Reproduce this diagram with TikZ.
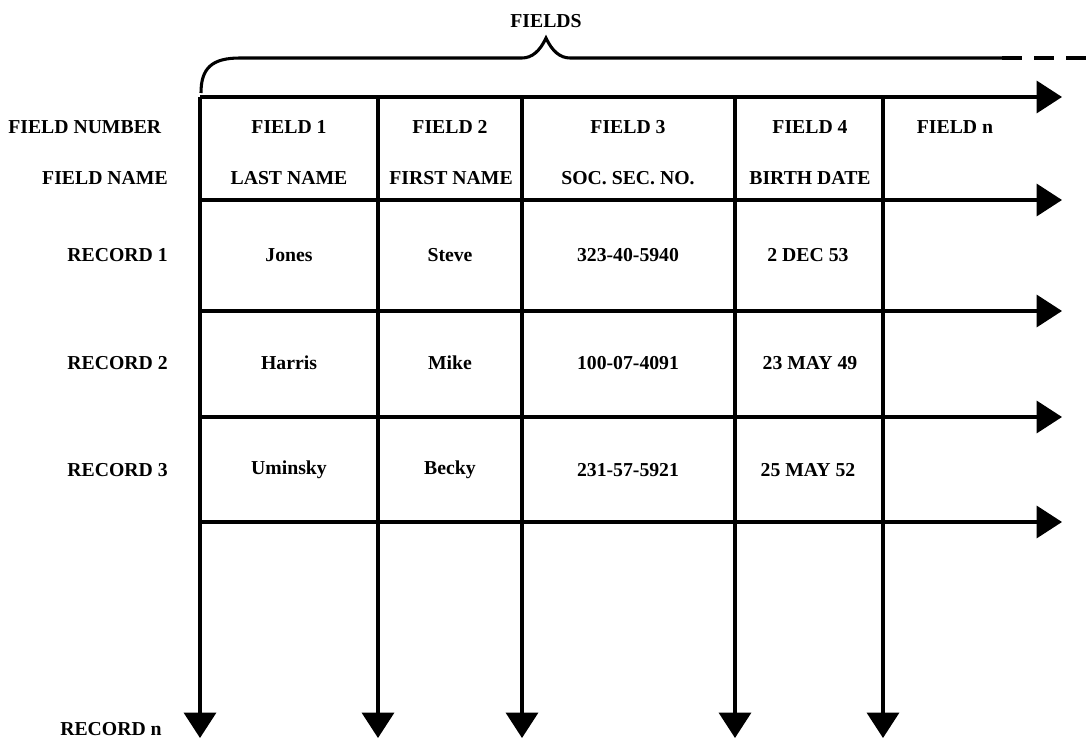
\documentclass[tikz,border=0pt]{standalone}
\usepackage{fontspec}
\setmainfont{Liberation Serif}
\usetikzlibrary{arrows.meta}
\begin{document}
\begin{tikzpicture}[x=0.75pt,y=-0.75pt,
  gridline/.style={line width=2.4pt},
  gridarrow/.style={gridline,-{Triangle[length=19pt,width=24pt]}},
  lbl/.style={font=\bfseries\fontsize{14.8}{17}\selectfont,inner sep=0pt},
  cell/.style={lbl,anchor=center}]
\useasboundingbox (0,0) rectangle (1086,741);

% grid coordinates: columns and rows
\foreach \name/\x in {c0/200,c1/378,c2/522,c3/735,c4/883} {
  \coordinate (\name top) at (\x,97);
  \coordinate (\name end) at (\x,738);
}
\foreach \name/\y in {r0/97,r1/200,r2/311,r3/417,r4/522} {
  \coordinate (\name left) at (200,\y);
  \coordinate (\name end) at (1062,\y);
}

% record lines (horizontal) and field lines (vertical)
\foreach \name in {r0,r1,r2,r3,r4}
  \draw[gridarrow] (\name left) -- (\name end);
\foreach \name in {c0,c1,c2,c3,c4}
  \draw[gridarrow] (\name top) -- (\name end);

% brace over the fields
\coordinate (bl) at (201,93);
\coordinate (btip) at (546,38);
\coordinate (br) at (1002,58);
\coordinate (bdash) at (1086,58);
\draw[line width=2.3pt]
  (bl) .. controls (201,68) and (212,58) .. (240,58) -- (522,58)
  .. controls (532,58) and (540,51) .. (btip)
  .. controls (552,51) and (560,58) .. (570,58) -- (br);
\draw[line width=2.3pt,dash pattern=on 15pt off 9pt] (br) -- (bdash);
\node[lbl] (fields) at (546,21) {FIELDS};

% row labels
\node[lbl,anchor=west] (fnum) at (8,127) {FIELD NUMBER};
\node[lbl,anchor=east] (fname) at (168,178) {FIELD NAME};
\node[lbl,anchor=east] (rec1) at (168,255) {RECORD 1};
\node[lbl,anchor=east] (rec2) at (168,363) {RECORD 2};
\node[lbl,anchor=east] (rec3) at (168,470) {RECORD 3};
\node[lbl,anchor=west] (recn) at (60,729) {RECORD n};

% field numbers
\node[cell] (f1) at (289,127) {FIELD 1};
\node[cell] (f2) at (450,127) {FIELD 2};
\node[cell] (f3) at (628,127) {FIELD 3};
\node[cell] (f4) at (810,127) {FIELD 4};
\node[cell] (fn) at (955,127) {FIELD n};

% field names
\node[cell] (n1) at (289,178) {LAST NAME};
\node[cell] (n2) at (451,178) {FIRST NAME};
\node[cell] (n3) at (628,178) {SOC. SEC. NO.};
\node[cell] (n4) at (810,178) {BIRTH DATE};

% record 1
\node[cell] (a1) at (289,255) {Jones};
\node[cell] (a2) at (450,255) {Steve};
\node[cell] (a3) at (628,255) {323-40-5940};
\node[cell] (a4) at (808,255) {2 DEC 53};

% record 2
\node[cell] (b1) at (289,363) {Harris};
\node[cell] (b2) at (450,363) {Mike};
\node[cell] (b3) at (628,363) {100-07-4091};
\node[cell] (b4) at (810,363) {23 MAY 49};

% record 3
\node[cell] (d1) at (289,470) {Uminsky};
\node[cell] (d2) at (450,470) {Becky};
\node[cell] (d3) at (628,470) {231-57-5921};
\node[cell] (d4) at (808,470) {25 MAY 52};
\end{tikzpicture}
\end{document}
